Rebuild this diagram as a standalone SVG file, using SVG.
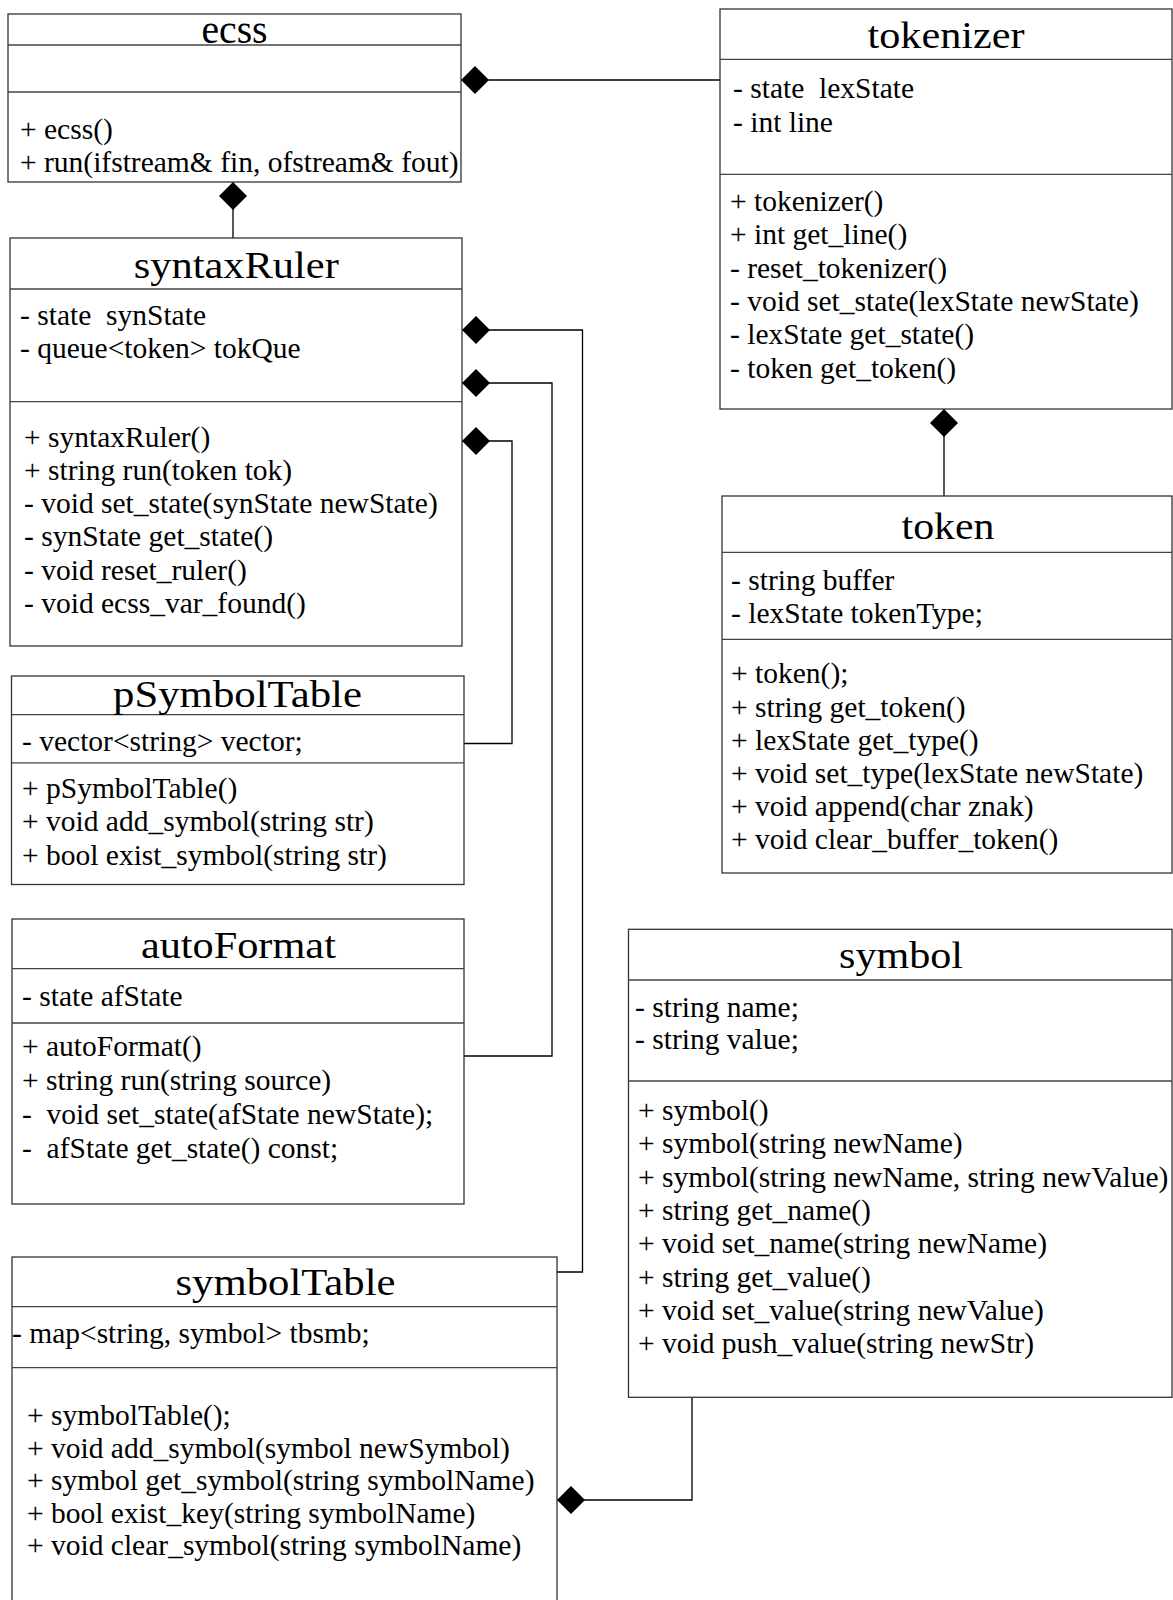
<svg xmlns="http://www.w3.org/2000/svg" width="1173" height="1600" viewBox="0 0 1173 1600">
<style>
.box{fill:#fff;stroke:#333;stroke-width:1.3}
.sep{stroke:#444;stroke-width:1.3}
.t{font-family:"Liberation Serif","Times New Roman",serif;font-size:37px;fill:#000;text-anchor:middle}
.b{font-family:"Liberation Serif","Times New Roman",serif;font-size:29.5px;fill:#000;white-space:pre}
.c{fill:none;stroke:#000;stroke-width:1.3}
</style>
<defs>
<marker id="dia" markerUnits="userSpaceOnUse" markerWidth="28" markerHeight="28" viewBox="0 0 26 26" refX="0" refY="13" orient="auto">
<path d="M0,13 L13,0 L26,13 L13,26 Z" fill="#000"/>
</marker>
</defs>
<rect width="1173" height="1600" fill="#fff"/>

<g id="connectors">
<path class="c" d="M461,80 H720" marker-start="url(#dia)"/>
<path class="c" d="M233,182 V238" marker-start="url(#dia)"/>
<path class="c" d="M462,330 H582.5 V1272 H557" marker-start="url(#dia)"/>
<path class="c" d="M462,383 H552 V1056 H464" marker-start="url(#dia)"/>
<path class="c" d="M462,441 H512 V743.5 H464" marker-start="url(#dia)"/>
<path class="c" d="M944,409 V496" marker-start="url(#dia)"/>
<path class="c" d="M557,1500 H692 V1397" marker-start="url(#dia)"/>
</g>

<g id="ecss">
<rect class="box" x="8" y="14" width="453" height="168"/>
<line class="sep" x1="8" y1="45" x2="461" y2="45"/>
<line class="sep" x1="8" y1="92" x2="461" y2="92"/>
<text class="t" x="234.5" y="43" style="font-size:42px" textLength="66" lengthAdjust="spacingAndGlyphs">ecss</text>
<text class="b" x="20" y="139">+ ecss()</text>
<text class="b" x="20" y="172">+ run(ifstream&amp; fin, ofstream&amp; fout)</text>
</g>

<g id="tokenizer">
<rect class="box" x="720" y="9" width="452" height="400"/>
<line class="sep" x1="720" y1="59.3" x2="1172" y2="59.3"/>
<line class="sep" x1="720" y1="174.3" x2="1172" y2="174.3"/>
<text class="t" x="946" y="47.7" textLength="157" lengthAdjust="spacingAndGlyphs">tokenizer</text>
<text class="b" x="733" y="98.3">- state  lexState</text>
<text class="b" x="733" y="132.3">- int line</text>
<text class="b" x="730" y="211">+ tokenizer()</text>
<text class="b" x="730" y="244.3">+ int get_line()</text>
<text class="b" x="730" y="277.6">- reset_tokenizer()</text>
<text class="b" x="730" y="311">- void set_state(lexState newState)</text>
<text class="b" x="730" y="344.3">- lexState get_state()</text>
<text class="b" x="730" y="377.7">- token get_token()</text>
</g>

<g id="syntaxRuler">
<rect class="box" x="10" y="238" width="452" height="408"/>
<line class="sep" x1="10" y1="289" x2="462" y2="289"/>
<line class="sep" x1="10" y1="401.7" x2="462" y2="401.7"/>
<text class="t" x="236.3" y="277.7" textLength="205" lengthAdjust="spacingAndGlyphs">syntaxRuler</text>
<text class="b" x="20" y="325">- state  synState</text>
<text class="b" x="20" y="357.7">- queue&lt;token&gt; tokQue</text>
<text class="b" x="24" y="446.7">+ syntaxRuler()</text>
<text class="b" x="24" y="480">+ string run(token tok)</text>
<text class="b" x="24" y="513">- void set_state(synState newState)</text>
<text class="b" x="24" y="546">- synState get_state()</text>
<text class="b" x="24" y="579.5">- void reset_ruler()</text>
<text class="b" x="24" y="613">- void ecss_var_found()</text>
</g>

<g id="pSymbolTable">
<rect class="box" x="11.5" y="676" width="452.5" height="208.5"/>
<line class="sep" x1="11.5" y1="714.7" x2="464" y2="714.7"/>
<line class="sep" x1="11.5" y1="762.8" x2="464" y2="762.8"/>
<text class="t" x="237.5" y="707.4" textLength="249" lengthAdjust="spacingAndGlyphs">pSymbolTable</text>
<text class="b" x="22" y="750.5">- vector&lt;string&gt; vector;</text>
<text class="b" x="22" y="798">+ pSymbolTable()</text>
<text class="b" x="22" y="831.3">+ void add_symbol(string str)</text>
<text class="b" x="22" y="864.6">+ bool exist_symbol(string str)</text>
</g>

<g id="autoFormat">
<rect class="box" x="12" y="919" width="452" height="285"/>
<line class="sep" x1="12" y1="968.7" x2="464" y2="968.7"/>
<line class="sep" x1="12" y1="1023" x2="464" y2="1023"/>
<text class="t" x="238.4" y="958" textLength="195" lengthAdjust="spacingAndGlyphs">autoFormat</text>
<text class="b" x="22" y="1005.5">- state afState</text>
<text class="b" x="22" y="1056">+ autoFormat()</text>
<text class="b" x="22" y="1090">+ string run(string source)</text>
<text class="b" x="22" y="1124">-  void set_state(afState newState);</text>
<text class="b" x="22" y="1158">-  afState get_state() const;</text>
</g>

<g id="symbolTable">
<rect class="box" x="12" y="1257" width="545" height="360"/>
<line class="sep" x1="12" y1="1306.7" x2="557" y2="1306.7"/>
<line class="sep" x1="12" y1="1367.7" x2="557" y2="1367.7"/>
<text class="t" x="285.5" y="1295" textLength="220" lengthAdjust="spacingAndGlyphs">symbolTable</text>
<text class="b" x="12" y="1343.3">- map&lt;string, symbol&gt; tbsmb;</text>
<text class="b" x="27" y="1425">+ symbolTable();</text>
<text class="b" x="27" y="1457.5">+ void add_symbol(symbol newSymbol)</text>
<text class="b" x="27" y="1490">+ symbol get_symbol(string symbolName)</text>
<text class="b" x="27" y="1522.5">+ bool exist_key(string symbolName)</text>
<text class="b" x="27" y="1555">+ void clear_symbol(string symbolName)</text>
</g>

<g id="token">
<rect class="box" x="722" y="496" width="450" height="377"/>
<line class="sep" x1="722" y1="552.3" x2="1172" y2="552.3"/>
<line class="sep" x1="722" y1="639.3" x2="1172" y2="639.3"/>
<text class="t" x="948" y="539.3" textLength="93" lengthAdjust="spacingAndGlyphs">token</text>
<text class="b" x="731" y="590">- string buffer</text>
<text class="b" x="731" y="623.3">- lexState tokenType;</text>
<text class="b" x="731" y="683.3">+ token();</text>
<text class="b" x="731" y="716.5">+ string get_token()</text>
<text class="b" x="731" y="749.7">+ lexState get_type()</text>
<text class="b" x="731" y="783">+ void set_type(lexState newState)</text>
<text class="b" x="731" y="816">+ void append(char znak)</text>
<text class="b" x="731" y="849.3">+ void clear_buffer_token()</text>
</g>

<g id="symbol">
<rect class="box" x="628.5" y="929.3" width="543.5" height="468"/>
<line class="sep" x1="628.5" y1="980" x2="1172" y2="980"/>
<line class="sep" x1="628.5" y1="1081" x2="1172" y2="1081"/>
<text class="t" x="901" y="968.3" textLength="124" lengthAdjust="spacingAndGlyphs">symbol</text>
<text class="b" x="635" y="1016.7">- string name;</text>
<text class="b" x="635" y="1049.3">- string value;</text>
<text class="b" x="638" y="1120">+ symbol()</text>
<text class="b" x="638" y="1153.3">+ symbol(string newName)</text>
<text class="b" x="638" y="1186.6">+ symbol(string newName, string newValue)</text>
<text class="b" x="638" y="1220">+ string get_name()</text>
<text class="b" x="638" y="1253.3">+ void set_name(string newName)</text>
<text class="b" x="638" y="1286.6">+ string get_value()</text>
<text class="b" x="638" y="1320">+ void set_value(string newValue)</text>
<text class="b" x="638" y="1353.3">+ void push_value(string newStr)</text>
</g>
</svg>
